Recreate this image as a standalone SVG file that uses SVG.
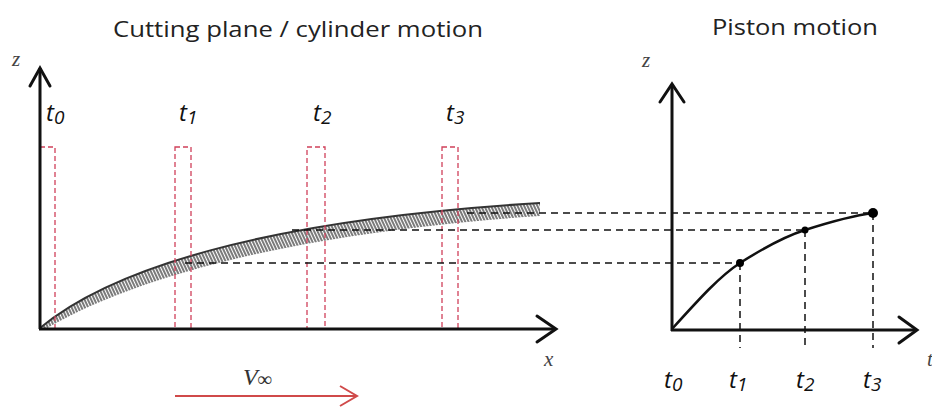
<svg xmlns="http://www.w3.org/2000/svg" width="932" height="409" viewBox="0 0 932 409">
<style>
.title{font-family:"Open Sans","Liberation Sans",sans-serif;font-size:21px;fill:#222}
.tl{font-family:"Open Sans","Liberation Sans",sans-serif;font-style:italic;font-size:24px;fill:#111}
.var{font-family:"Liberation Serif",serif;font-style:italic;font-size:21px;fill:#444}
.axis{stroke:#111;stroke-width:3;fill:none}
.head{stroke:#111;stroke-width:3;fill:none;stroke-linecap:round;stroke-linejoin:miter}
.rd{stroke:#d0405a;stroke-width:1.3;fill:none;stroke-dasharray:5,3}
.bd{stroke:#111;stroke-width:1.5;fill:none;stroke-dasharray:7,5}
</style>
<defs>
<pattern id="hatch" width="3" height="3" patternUnits="userSpaceOnUse" patternTransform="rotate(-25)">
<line x1="1" y1="0" x2="1" y2="3" stroke="#333" stroke-width="1.3"/>
</pattern>
</defs>
<rect width="932" height="409" fill="#fff"/>
<text class="title" x="113" y="37" textLength="370" lengthAdjust="spacingAndGlyphs">Cutting plane / cylinder motion</text>
<text class="title" x="712" y="35" textLength="166" lengthAdjust="spacingAndGlyphs">Piston motion</text>

<g id="band">
<path d="M40,328 C110,270 260,220 540,203 L540,216 C270,234 120,285 44,330 Z" fill="url(#hatch)"/>
<path d="M40,328 C110,270 260,220 540,203" stroke="#333" stroke-width="2" fill="none"/>
</g>

<g id="planes">
<rect class="rd" x="40" y="147" width="15" height="182"/>
<rect class="rd" x="175" y="147" width="16" height="182"/>
<rect class="rd" x="307" y="147" width="18" height="182"/>
<rect class="rd" x="442" y="147" width="16" height="182"/>
</g>

<g id="connectors">
<line class="bd" x1="185" y1="263" x2="740" y2="263"/>
<line class="bd" x1="292" y1="230" x2="805" y2="230"/>
<line class="bd" x1="467" y1="213" x2="873" y2="213"/>
<line class="bd" x1="740" y1="263" x2="740" y2="348"/>
<line class="bd" x1="805" y1="230" x2="805" y2="348"/>
<line class="bd" x1="873" y1="213" x2="873" y2="348"/>
</g>

<g id="left-axes">
<line class="axis" x1="40" y1="329" x2="40" y2="68"/>
<polyline class="head" points="30,86 40,68 50,86"/>
<line class="axis" x1="39" y1="329" x2="555" y2="329"/>
<polyline class="head" points="537,316 556,329 537,342"/>
<text class="var" x="12" y="66">z</text>
<text class="var" x="544" y="366">x</text>
</g>

<g id="left-labels">
<text class="tl" x="46" y="121">t<tspan font-size="19" dy="3">0</tspan></text>
<text class="tl" x="179" y="121">t<tspan font-size="19" dy="3">1</tspan></text>
<text class="tl" x="313" y="121">t<tspan font-size="19" dy="3">2</tspan></text>
<text class="tl" x="446" y="121">t<tspan font-size="19" dy="3">3</tspan></text>
</g>

<g id="velocity">
<line x1="175" y1="396" x2="356" y2="396" stroke="#d04a4a" stroke-width="2"/>
<polyline points="340,386 357,396 340,406" stroke="#d04a4a" stroke-width="2" fill="none"/>
<text x="243" y="385" font-family="Liberation Serif,serif" font-style="italic" font-size="24" fill="#333">V<tspan font-size="20" dy="1">∞</tspan></text>
</g>

<g id="right-axes">
<line class="axis" x1="672" y1="331" x2="672" y2="84"/>
<polyline class="head" points="660,102 672,84 684,102"/>
<line class="axis" x1="671" y1="330" x2="917" y2="330"/>
<polyline class="head" points="899,317 917,330 899,343"/>
<text class="var" x="642" y="67">z</text>
<text class="var" x="927" y="366">t</text>
</g>

<g id="piston-curve">
<path d="M672,329 C700,298 720,276 740,263 C762,249 783,237 805,230 C830,222 850,216 873,213" stroke="#111" stroke-width="2.5" fill="none"/>
<circle cx="740" cy="263" r="4"/>
<circle cx="805" cy="230" r="3.5"/>
<circle cx="873" cy="213" r="5"/>
</g>

<g id="right-labels">
<text class="tl" x="664" y="388">t<tspan font-size="19" dy="3">0</tspan></text>
<text class="tl" x="729" y="388">t<tspan font-size="19" dy="3">1</tspan></text>
<text class="tl" x="796" y="388">t<tspan font-size="19" dy="3">2</tspan></text>
<text class="tl" x="863" y="388">t<tspan font-size="19" dy="3">3</tspan></text>
</g>
</svg>
